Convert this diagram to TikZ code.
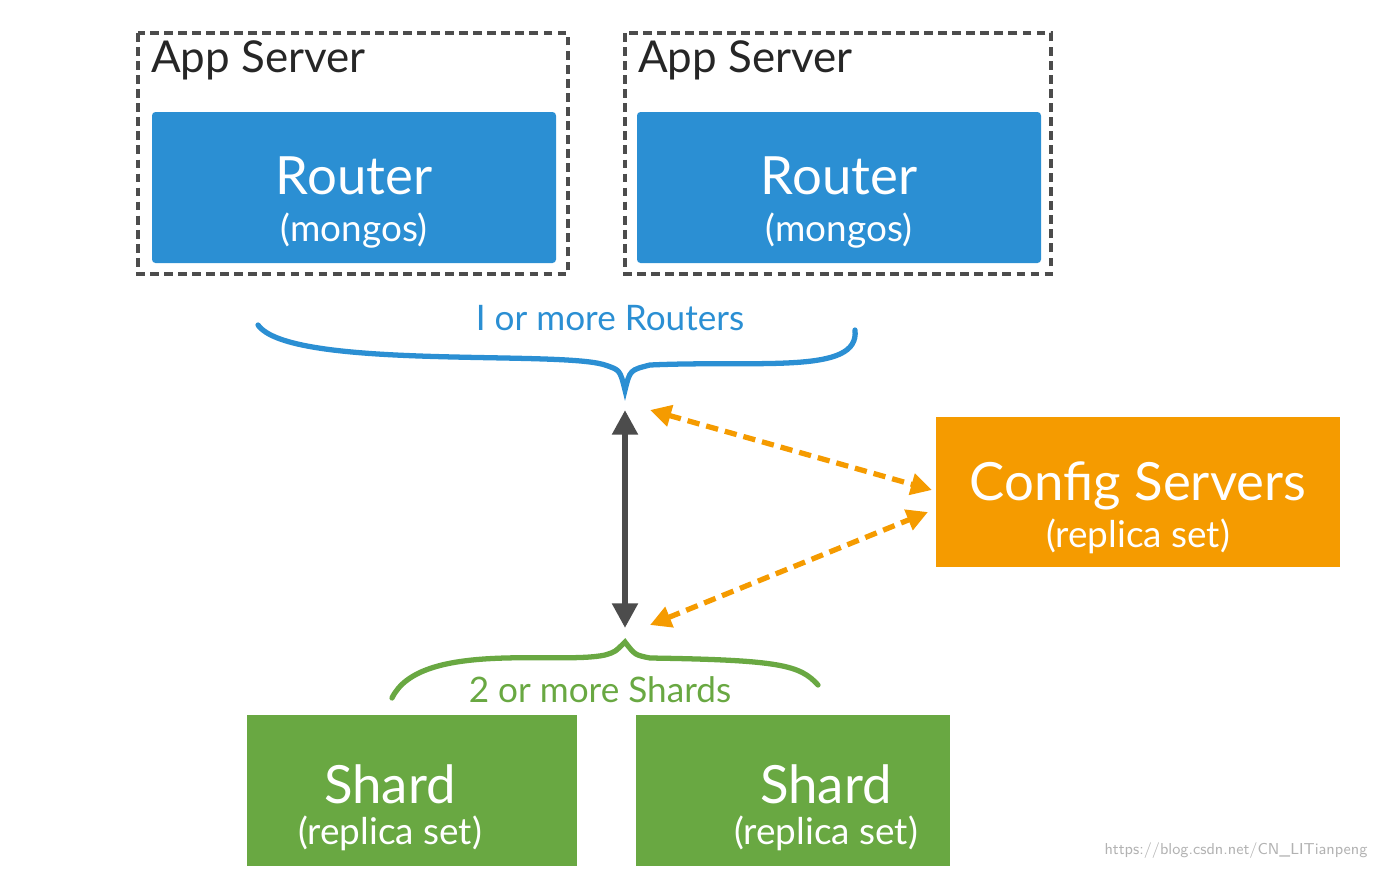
\documentclass[tikz,border=0pt]{standalone}
\usepackage{fontspec}
\setmainfont{Lato}
\usetikzlibrary{arrows.meta, positioning}
\definecolor{routerblue}{HTML}{2B8FD3}
\definecolor{configorange}{HTML}{F59B00}
\definecolor{shardgreen}{HTML}{69A842}
\begin{document}
\begin{tikzpicture}[x=0.02cm, y=-0.02cm,
    appbox/.style={draw=black!70, line width=2pt, dash pattern=on 5pt off 3pt},
    router/.style={fill=routerblue, rounded corners=2pt, text=white, align=center},
    config/.style={fill=configorange, text=white, align=center},
    shard/.style={fill=shardgreen, text=white, align=center},
    big/.style={font=\fontsize{30}{30}\selectfont},
    small/.style={font=\fontsize{21}{22}\selectfont}]
    \useasboundingbox (0,0) rectangle (1374,870);

    \draw[appbox] (138,33) rectangle (568,274);
    \draw[appbox] (625,33) rectangle (1051,274);
    \node[anchor=west, font=\fontsize{25}{25}\selectfont, text=black!85] (A1) at (145,60) {App Server};
    \node[anchor=west, font=\fontsize{25}{25}\selectfont, text=black!85] (A2) at (632,60) {App Server};

    \fill[router] (152,112) rectangle (556,263);
    \fill[router] (637,112) rectangle (1041,263);
    \node[text=white, big] (R1) at (354,176) {Router};
    \node[text=white, small, below=3pt of R1] {(mongos)};
    \node[text=white, big] (R2) at (839,176) {Router};
    \node[text=white, small, below=3pt of R2] {(mongos)};

    % routers brace
    \coordinate (rl) at (258,325);
    \coordinate (rt) at (625,390);
    \coordinate (rr) at (855,330);
    \draw[routerblue, line width=3pt, line cap=round]
        (rl) .. controls (290,370) and (560,350) .. (605,365)
        .. controls (620,370) .. (rt)
        .. controls (630,370) .. (650,365)
        .. controls (760,360) and (860,375) .. (rr);
    \node[text=routerblue, font=\fontsize{20}{20}\selectfont] (RL) at (610,318) {I or more Routers};

    % config servers
    \fill[config] (936,417) rectangle (1340,567);
    \node[text=white, big] (C) at (1138,486) {Config Servers};
    \node[text=white, small, below=-2pt of C] {(replica set)};

    % shards brace
    \coordinate (sl) at (392,698);
    \coordinate (st) at (625,642);
    \coordinate (sr) at (818,685);
    \draw[shardgreen, line width=3pt, line cap=round]
        (sl) .. controls (420,640) and (560,665) .. (605,655)
        .. controls (615,652) .. (st)
        .. controls (635,655) .. (650,658)
        .. controls (780,660) and (800,665) .. (sr);
    \node[text=shardgreen, font=\fontsize{20}{20}\selectfont] (SL) at (600,690) {2 or more Shards};

    \fill[shard] (247,715) rectangle (577,866);
    \fill[shard] (636,715) rectangle (950,866);
    \node[text=white, big] (S1) at (390,784) {Shard};
    \node[text=white, small, below=0pt of S1] {(replica set)};
    \node[text=white, big] (S2) at (826,784) {Shard};
    \node[text=white, small, below=0pt of S2] {(replica set)};

    % connectors
    \coordinate (gt) at (625,410);
    \coordinate (gb) at (625,628);
    \draw[black!70, line width=3.5pt, {Triangle[length=14pt,width=14pt]}-{Triangle[length=14pt,width=14pt]}] (gt) -- (gb);
    \coordinate (ot) at (650,410);
    \coordinate (ob) at (650,625);
    \coordinate (ct) at (932,490);
    \coordinate (cb) at (928,512);
    \draw[configorange, line width=3pt, dash pattern=on 7pt off 4pt, {Triangle[length=12pt,width=12pt]}-{Triangle[length=12pt,width=12pt]}] (ot) -- (ct);
    \draw[configorange, line width=3pt, dash pattern=on 7pt off 4pt, {Triangle[length=12pt,width=12pt]}-{Triangle[length=12pt,width=12pt]}] (ob) -- (cb);

    \node[text=black!30, font=\fontsize{9}{9}\selectfont\sffamily] (W) at (1236,851) {https://blog.csdn.net/CN\_LITianpeng};
\end{tikzpicture}
\end{document}
